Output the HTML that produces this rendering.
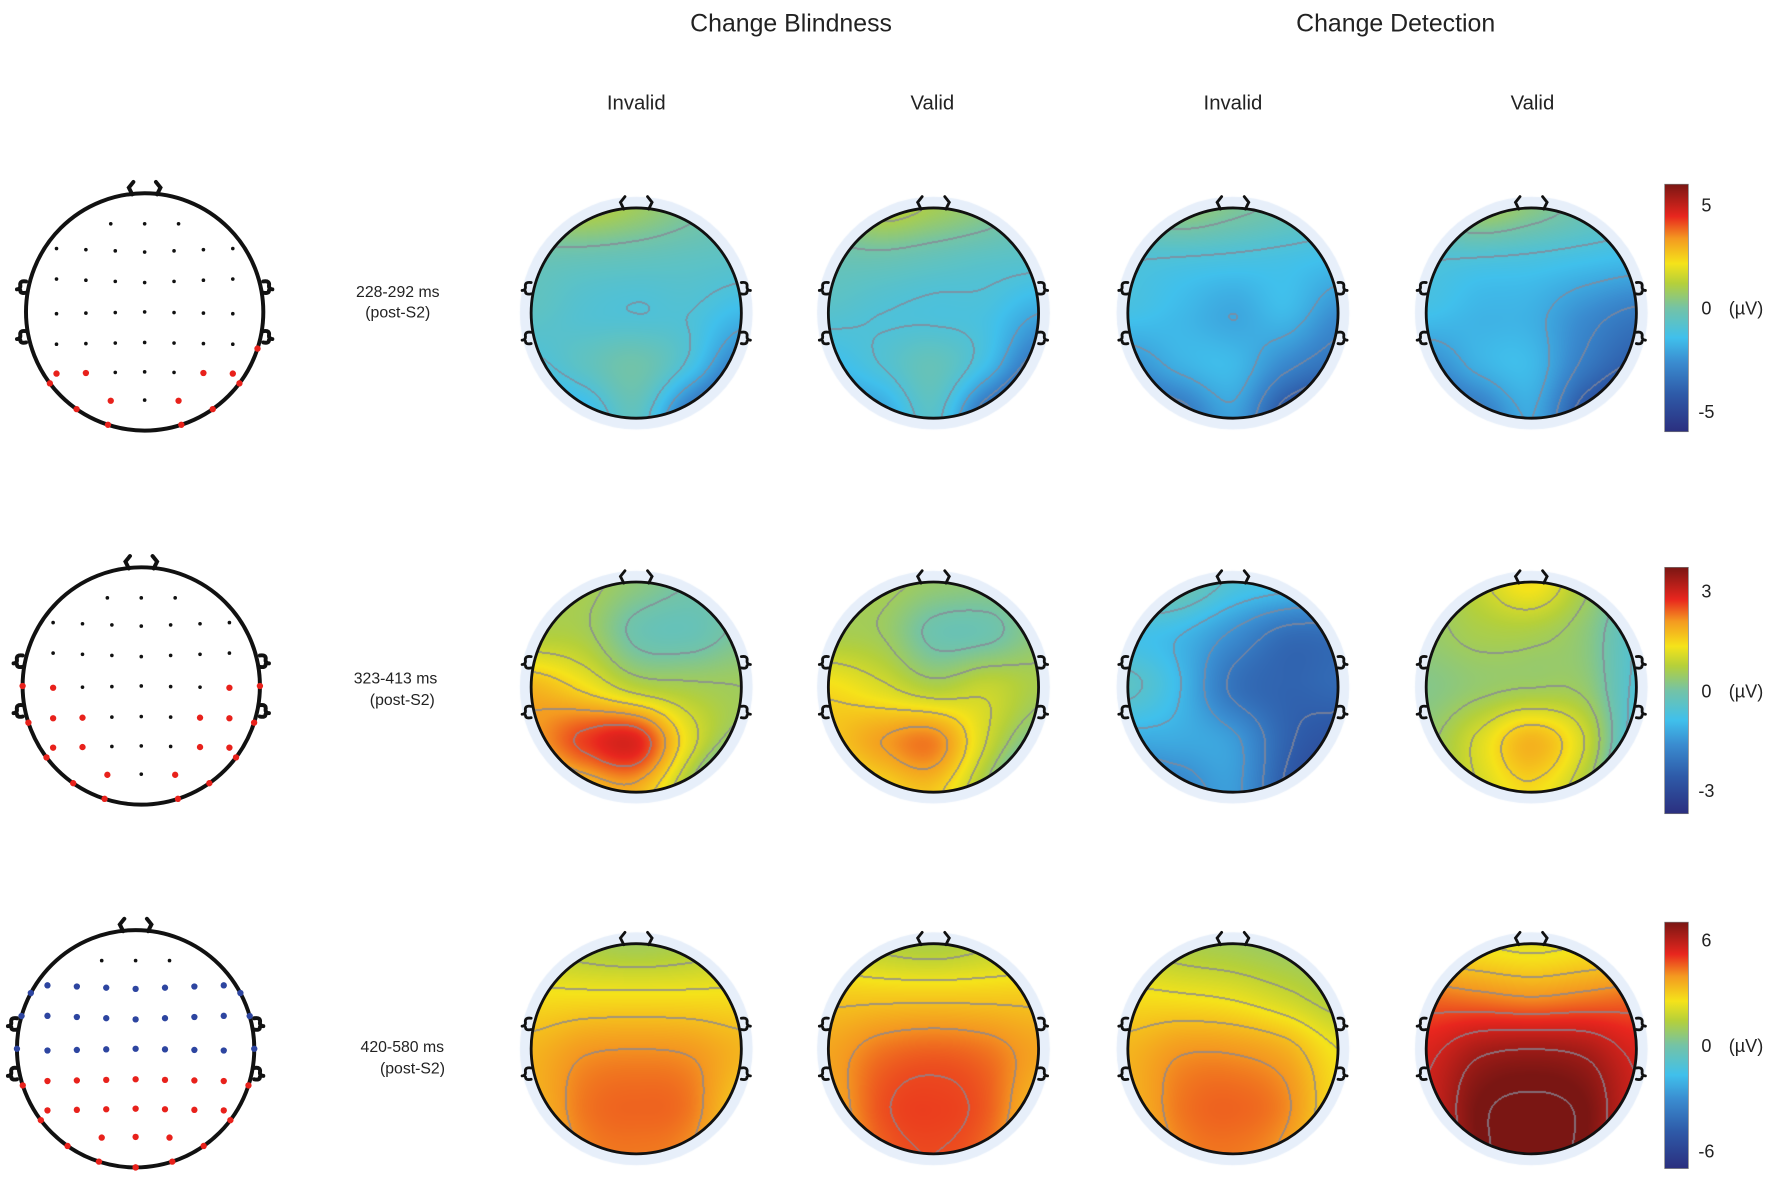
<!DOCTYPE html>
<html><head><meta charset="utf-8">
<style>
html,body{margin:0;padding:0;background:#fff;}
#wrap{position:relative;width:1772px;height:1181px;overflow:hidden;}
#cv,#sv{position:absolute;left:0;top:0;}
text{font-family:"Liberation Sans",sans-serif;fill:#222;}
</style></head>
<body>
<div id="wrap">
<canvas id="cv" width="1772" height="1181"></canvas>
<svg id="sv" width="1772" height="1181" viewBox="0 0 1568 1045">
<defs>
<linearGradient id="jet" x1="0" y1="1" x2="0" y2="0">
<stop offset="0" stop-color="#2b2f7f"/><stop offset="0.15" stop-color="#2e5aa8"/><stop offset="0.28" stop-color="#3a8cd0"/>
<stop offset="0.38" stop-color="#40c0ec"/><stop offset="0.5" stop-color="#74c3a6"/><stop offset="0.6" stop-color="#b5d03a"/>
<stop offset="0.68" stop-color="#f5e31a"/><stop offset="0.78" stop-color="#f49a20"/><stop offset="0.87" stop-color="#e8261e"/>
<stop offset="1" stop-color="#7a1613"/>
</linearGradient>
</defs>
<text x="700" y="28" font-size="22" text-anchor="middle">Change Blindness</text>
<text x="1235" y="28" font-size="22" text-anchor="middle">Change Detection</text>
<text x="563" y="97" font-size="18" text-anchor="middle">Invalid</text>
<text x="825" y="97" font-size="18" text-anchor="middle">Valid</text>
<text x="1091" y="97" font-size="18" text-anchor="middle">Invalid</text>
<text x="1356" y="97" font-size="18" text-anchor="middle">Valid</text>
<g><text x="352" y="263" font-size="14" text-anchor="middle">228-292 ms</text><text x="352" y="281" font-size="14" text-anchor="middle">(post-S2)</text></g>
<g><text x="350" y="605" font-size="14" text-anchor="middle">323-413 ms</text><text x="356" y="624" font-size="14" text-anchor="middle">(post-S2)</text></g>
<g><text x="356" y="931" font-size="14" text-anchor="middle">420-580 ms</text><text x="365" y="950" font-size="14" text-anchor="middle">(post-S2)</text></g>
<g id="layer"></g>
</svg>
</div>
<script>
// ---- data ----
const conditions=["cb-invalid","cb-valid","cd-invalid","cd-valid"];
const timeWindows=["228-292","323-413","420-580"];
const scaleMax=[6,3.7,7];
const contourStep=[1,0.5,0.8];
const ticksRow1=[5,0,-5];
const ticksRow2=[3,0,-3];
const ticksRow3=[6,0,-6];
// 5x5 grids (front->back rows, left->right cols), µV
const r1CbInvalid=[[1.0,1.2,0.8,0.2,-0.3],[-0.3,-0.4,-0.5,-0.6,-0.7],[-0.6,-0.9,-1.0,-1.0,-1.6],[-1.2,-0.6,-0.1,-1.2,-3.2],[-2.4,-1.8,-0.6,-3.5,-5.5]];
const r1CbValid=[[0.6,1.3,0.9,0.4,-0.3],[-0.3,-0.3,-0.5,-0.7,-0.8],[-0.8,-1.0,-1.1,-1.2,-2.0],[-1.6,-1.0,-0.4,-1.5,-3.6],[-2.8,-2.2,-0.8,-3.8,-5.8]];
const r1CdInvalid=[[0.2,0.6,0.2,-0.2,-0.6],[-1.0,-1.1,-1.2,-1.3,-1.5],[-1.3,-1.6,-2.0,-1.6,-2.6],[-2.6,-1.8,-1.6,-2.8,-3.6],[-4.2,-3.5,-2.2,-4.6,-5.6]];
const r1CdValid=[[0.2,0.9,0.4,-0.2,-0.6],[-1.0,-1.1,-1.2,-1.4,-1.6],[-1.4,-1.7,-1.8,-2.6,-3.2],[-2.8,-1.8,-1.6,-3.2,-4.2],[-4.4,-3.4,-2.0,-4.6,-5.8]];
const r2CbInvalid=[[0.6,0.6,0.3,0.0,0.0],[0.7,0.6,-0.1,-0.2,0.1],[1.8,1.4,0.8,0.6,0.5],[2.0,2.6,2.8,1.2,0.2],[1.2,1.6,1.8,0.4,-1.8]];
const r2CbValid=[[0.6,0.6,0.4,0.3,0.3],[0.6,0.5,-0.1,-0.1,0.3],[1.4,1.1,0.7,0.9,0.6],[1.6,2.0,2.2,1.0,0.0],[1.0,1.4,1.6,0.4,-1.6]];
const r2CdInvalid=[[0.2,0.0,-0.6,-0.8,-1.0],[-0.8,-1.0,-1.6,-2.2,-2.2],[-0.4,-1.0,-2.1,-2.4,-2.3],[-1.2,-1.2,-1.4,-2.4,-2.8],[-2.2,-1.8,-1.4,-2.6,-3.4]];
const r2CdValid=[[0.4,0.9,1.4,0.6,-0.2],[0.4,0.6,0.6,0.3,-0.5],[0.2,0.4,0.5,0.4,-0.6],[0.4,1.1,1.8,1.0,-0.8],[0.4,1.0,1.4,0.6,-1.4]];
const r3CbInvalid=[[1.6,1.2,1.0,1.2,1.6],[2.6,2.6,2.6,2.6,2.6],[3.4,3.9,4.0,3.9,3.4],[3.4,4.3,4.5,4.3,3.0],[3.0,4.1,4.3,4.0,2.6]];
const r3CbValid=[[1.8,1.4,1.2,1.5,1.8],[3.0,3.0,3.0,3.0,3.0],[3.7,4.3,4.5,4.3,3.7],[3.6,4.7,4.9,4.6,3.3],[3.2,4.5,4.8,4.4,2.8]];
const r3CdInvalid=[[1.6,1.2,1.0,0.8,0.8],[2.6,2.5,2.3,1.8,1.2],[3.4,3.9,3.9,3.5,2.4],[3.4,4.3,4.5,4.1,2.6],[3.0,4.1,4.3,3.8,2.2]];
const r3CdValid=[[2.6,2.4,2.2,2.4,2.6],[4.4,4.2,4.0,4.2,4.4],[5.4,6.2,6.4,6.2,5.4],[5.6,7.0,7.3,7.0,5.6],[5.2,7.0,7.4,7.0,5.2]];
const grids=[[r1CbInvalid,r1CbValid,r1CdInvalid,r1CdValid],[r2CbInvalid,r2CbValid,r2CdInvalid,r2CdValid],[r3CbInvalid,r3CbValid,r3CdInvalid,r3CdValid]];
const tickSets=[ticksRow1,ticksRow2,ticksRow3];
// electrode colors per montage row (k black, r red, b blue)
const montage1=["kkk","kkkkkkk","kkkkkkk","kkkkkkk","kkkkkkk","rrkkkrr","rkr"];
const montage2=["kkk","kkkkkkk","kkkkkkk","rkkkkkr","rrkkkrr","rrkkkrr","rkr"];
const montage3=["kkk","bbbbbbb","bbbbbbb","bbbbbbb","rrrrrrr","rrrrrrr","rrr"];
const rim1=[[108,"r",1],[127,"r"],[145,"r"],[162,"r"]];
const rim2=[[90,"r"],[108,"r"],[127,"r"],[145,"r"],[162,"r"]];
const rim3=[[62,"b"],[74,"b"],[90,"b"],[108,"r"],[127,"r"],[145,"r"],[162,"r"],[180,"r"]];

// ---- layout ----
const S=1772/1568;
const colX=[563,826,1091,1355], rowY=[277,608,928], R=93;
const headX=[128,125,120], headY=[276,607,928], HR=105;
const cbX=1473, cbW=21, cbTop=[163,502,816], cbBot=[382,720,1034];
const rowDy=[-78,-53,-26,0,27,53,78];
const rowDx={3:[-30,0,30],7:[-78,-52,-26,0,26,52,78]};
const NS="http://www.w3.org/2000/svg";
const layer=document.getElementById("layer");
function mk(tag,attrs,parent){const e=document.createElementNS(NS,tag);for(const k in attrs)e.setAttribute(k,attrs[k]);(parent||layer).appendChild(e);return e;}

const stops=[[0,[43,47,127]],[0.15,[46,90,168]],[0.28,[58,140,208]],[0.38,[64,192,236]],[0.5,[116,195,166]],[0.6,[181,208,58]],[0.68,[245,227,26]],[0.78,[244,154,32]],[0.87,[232,38,30]],[1,[122,22,19]]];
function cmap(t){t=Math.max(0,Math.min(1,t));for(let i=1;i<stops.length;i++){if(t<=stops[i][0]){const a=stops[i-1],b=stops[i];const f=(t-a[0])/(b[0]-a[0]);return [0,1,2].map(k=>a[1][k]+(b[1][k]-a[1][k])*f);}}return stops[stops.length-1][1];}
function cr(p0,p1,p2,p3,t){return 0.5*((2*p1)+(-p0+p2)*t+(2*p0-5*p1+4*p2-p3)*t*t+(-p0+3*p1-3*p2+p3)*t*t*t);}
function sample(g,gx,gy){
  const n=g.length;const get=(i,j)=>g[Math.max(0,Math.min(n-1,j))][Math.max(0,Math.min(n-1,i))];
  const ix=Math.floor(gx),iy=Math.floor(gy),fx=gx-ix,fy=gy-iy;const rows=[];
  for(let j=-1;j<=2;j++)rows.push(cr(get(ix-1,iy+j),get(ix,iy+j),get(ix+1,iy+j),get(ix+2,iy+j),fx));
  return cr(rows[0],rows[1],rows[2],rows[3],fy);
}
const ctx=document.getElementById("cv").getContext("2d");
function drawMap(ri,ci){
  const g=grids[ri][ci],mx=scaleMax[ri],st=contourStep[ri];
  const cx=colX[ci]*S,cy=rowY[ri]*S,r=R*S;
  ctx.fillStyle="#e7effa";ctx.beginPath();ctx.arc(cx,cy,r+10*S,0,7);ctx.fill();
  const x0=Math.floor(cx-r)-1,y0=Math.floor(cy-r)-1,w=Math.ceil(2*r)+3,h=w;
  const vals=new Float32Array(w*h);
  for(let j=0;j<h;j++)for(let i=0;i<w;i++){
    const u=(x0+i-cx)/r,v=(y0+j-cy)/r;
    const gx=(Math.max(-1,Math.min(1,u))+1)/2*(g.length-1),gy=(Math.max(-1,Math.min(1,v))+1)/2*(g.length-1);
    vals[j*w+i]=sample(g,gx,gy);
  }
  const lev=i=>Math.floor(vals[i]/st);
  const img=ctx.getImageData(x0,y0,w,h);const d=img.data;
  for(let j=1;j<h-1;j++)for(let i=1;i<w-1;i++){
    const u=(x0+i-cx),v=(y0+j-cy);if(u*u+v*v>r*r)continue;
    const k=j*w+i,val=vals[k];let c=cmap((val/mx+1)/2);
    const L=lev(k);
    if(L!==lev(k+1)||L!==lev(k+w)||L!==lev(k-1)||L!==lev(k-w)){c=[c[0]*0.25+135*0.75,c[1]*0.25+135*0.75,c[2]*0.25+150*0.75];}
    const p=k*4;d[p]=c[0];d[p+1]=c[1];d[p+2]=c[2];d[p+3]=255;
  }
  ctx.putImageData(img,x0,y0);
}
function headOutline(cx,cy,r,name,sw){
  const g=mk("g",{fill:"none",stroke:"#111","stroke-width":sw,"stroke-linecap":"round"});
  
  
  mk("circle",{cx:cx,cy:cy,r:r},g);
  mk("path",{d:`M${cx-11},${cy-r+1} l-3,-6 l4,-5 M${cx+11},${cy-r+1} l3,-6 l-4,-5`},g);
  [-22,22].forEach(dy=>{
    mk("path",{d:`M${cx-r},${cy+dy-5} q-6,-1 -5,4 q0,3 -3,3 M${cx-r},${cy+dy+5} q-5,1 -5,-2`},g);
    mk("path",{d:`M${cx+r},${cy+dy-5} q6,-1 5,4 q0,3 3,3 M${cx+r},${cy+dy+5} q5,1 5,-2`},g);
  });
  return g;
}
const colorOf={k:"#111",r:"#e8211b",b:"#2d45a0"};
function drawMontage(ri,mont,rims){
  const cx=headX[ri],cy=headY[ri];
  headOutline(cx,cy,HR,"electrode-head-row"+(ri+1),3.5);
  mont.forEach((s,row)=>{
    const xs=rowDx[s.length];
    for(let k=0;k<s.length;k++){
      const ch=s[k];
      const dot=mk("circle",{cx:cx+xs[k],cy:cy+rowDy[row]+(row===0?0:Math.abs(xs[k])*(row<3?-0.04:0.02)),r:ch==="k"?1.6:2.8,fill:colorOf[ch]});
      
      
    }
  });
  rims.forEach(rm=>{
    const sides=rm[2]?[1]:[-1,1];
    sides.forEach(sg=>{
      const th=rm[0]*Math.PI/180;
      const dot=mk("circle",{cx:cx+sg*HR*Math.sin(th),cy:cy-HR*Math.cos(th),r:2.8,fill:colorOf[rm[1]]});
      
      
    });
  });
}
for(let ri=0;ri<3;ri++){
  for(let ci=0;ci<4;ci++){
    drawMap(ri,ci);
    headOutline(colX[ci],rowY[ri],R,"topomap-"+conditions[ci]+"-"+timeWindows[ri],2.5);
  }
  const top=cbTop[ri],bot=cbBot[ri],mid=(top+bot)/2,half=(bot-top)/2;
  const bar=mk("rect",{x:cbX,y:top,width:cbW,height:bot-top,fill:"url(#jet)",stroke:"#777","stroke-width":0.6});
  
  
  tickSets[ri].forEach(v=>{
    const y=mid-v/scaleMax[ri]*half;
    const t=mk("text",{x:1510,y:y+6,"font-size":16,"text-anchor":"middle"});
    t.textContent=String(v);
    
    
    if(v===0){
      const u=mk("text",{x:1545,y:y+6,"font-size":16,"text-anchor":"middle"});
      u.textContent="(µV)";
      
      
    }
  });
}
drawMontage(0,montage1,rim1);
drawMontage(1,montage2,rim2);
drawMontage(2,montage3,rim3);
</script>
</body></html>
